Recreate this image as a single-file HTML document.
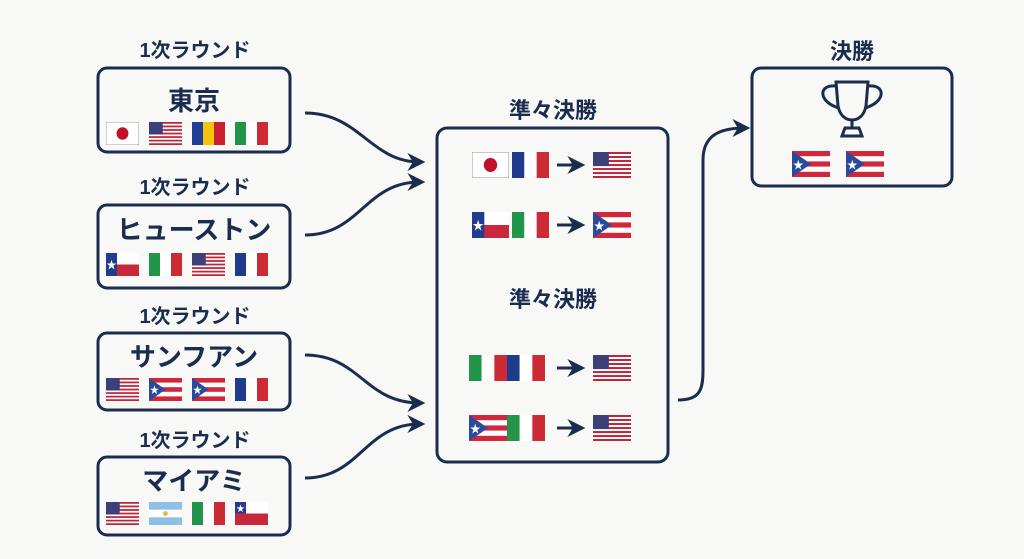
<!DOCTYPE html>
<html><head><meta charset="utf-8"><style>
body{margin:0;background:#f8f8f6;}
svg{display:block}
text{font-family:"Liberation Sans","Noto Sans CJK JP",sans-serif;font-weight:bold;fill:#1b2d4f;text-anchor:middle}
</style></head><body>
<svg width="1024" height="559" viewBox="0 0 1024 559" xmlns="http://www.w3.org/2000/svg">
<defs>
<symbol id="jp" viewBox="0 0 36 24" preserveAspectRatio="none"><rect width="36" height="24" fill="#fff" stroke="#999" stroke-width="1"/><circle cx="18" cy="12" r="6.5" fill="#c0102a"/></symbol>
<symbol id="us" viewBox="0 0 36 24" preserveAspectRatio="none"><rect width="36" height="24" fill="#fff"/><g fill="#c2253a"><rect y="0" width="36" height="1.85"/><rect y="3.7" width="36" height="1.85"/><rect y="7.4" width="36" height="1.85"/><rect y="11.1" width="36" height="1.85"/><rect y="14.8" width="36" height="1.85"/><rect y="18.5" width="36" height="1.85"/><rect y="22.15" width="36" height="1.85"/></g><rect width="15" height="13" fill="#3c3f7a"/></symbol>
<symbol id="ro" viewBox="0 0 36 24" preserveAspectRatio="none"><rect width="12" height="24" fill="#1f3f96"/><rect x="12" width="12" height="24" fill="#f2c40c"/><rect x="24" width="12" height="24" fill="#c8202f"/></symbol>
<symbol id="it" viewBox="0 0 36 24" preserveAspectRatio="none"><rect width="12" height="24" fill="#23954a"/><rect x="12" width="12" height="24" fill="#fff"/><rect x="24" width="12" height="24" fill="#cc2b35"/></symbol>
<symbol id="fr" viewBox="0 0 36 24" preserveAspectRatio="none"><rect width="12" height="24" fill="#1f3b8c"/><rect x="12" width="12" height="24" fill="#fff"/><rect x="24" width="12" height="24" fill="#cc2b35"/></symbol>
<symbol id="tx" viewBox="0 0 36 24" preserveAspectRatio="none"><rect width="36" height="12" fill="#fff"/><rect y="12" width="36" height="12" fill="#c8283a"/><rect width="12" height="24" fill="#223d8f"/><text x="6" y="16" style="fill:#fff;font-size:11px">★</text></symbol>
<symbol id="cl" viewBox="0 0 36 24" preserveAspectRatio="none"><rect width="36" height="12" fill="#fff"/><rect y="12" width="36" height="12" fill="#c8283a"/><rect width="12" height="12" fill="#223d8f"/><text x="6" y="10" style="fill:#fff;font-size:9px">★</text></symbol>
<symbol id="pr" viewBox="0 0 36 24" preserveAspectRatio="none"><rect width="36" height="24" fill="#fff"/><g fill="#d0283a"><rect width="36" height="4.8"/><rect y="9.6" width="36" height="4.8"/><rect y="19.2" width="36" height="4.8"/></g><polygon points="0,0 18,12 0,24" fill="#2a4a9a"/><text x="6" y="16" style="fill:#fff;font-size:10px">★</text></symbol>
<symbol id="ar" viewBox="0 0 36 24" preserveAspectRatio="none"><rect width="36" height="24" fill="#fff"/><rect width="36" height="8" fill="#8ec0e6"/><rect y="16" width="36" height="8" fill="#8ec0e6"/><circle cx="18" cy="12" r="2.5" fill="#e8b92a"/></symbol>
<marker id="ah" viewBox="0 0 10 10" refX="7" refY="5" markerWidth="6" markerHeight="6" orient="auto"><path d="M0,0 L10,5 L0,10 L3,5 Z" fill="#1b2d4f"/></marker>
</defs>
<g fill="none" stroke="#1b2d4f" stroke-width="3">
<rect x="98" y="68" width="192" height="84" rx="9"/>
<rect x="98" y="205" width="192" height="83" rx="9"/>
<rect x="98" y="333" width="192" height="77" rx="9"/>
<rect x="98" y="457" width="192" height="78" rx="9"/>
<rect x="437" y="128" width="231" height="334" rx="10"/>
<rect x="752" y="68" width="200" height="118" rx="9"/>
<path d="M305,113 C360,113 370,162 420,162" marker-end="url(#ah)"/>
<path d="M305,235 C360,235 365,182 420,182" marker-end="url(#ah)"/>
<path d="M305,355 C360,355 365,403 420,403" marker-end="url(#ah)"/>
<path d="M305,478 C360,478 365,424 420,424" marker-end="url(#ah)"/>
<path d="M678,400 C700,400 703,390 703,370 L703,160 C703,135 720,128 745,128" marker-end="url(#ah)"/>
<path d="M557,165 L580,165" marker-end="url(#ah)"/>
<path d="M557,225 L580,225" marker-end="url(#ah)"/>
<path d="M557,368 L580,368" marker-end="url(#ah)"/>
<path d="M557,428 L580,428" marker-end="url(#ah)"/>
<!-- trophy -->
<path d="M836,82 L868,82 L866,106 C864,116 858,120 852,120 C846,120 840,116 838,106 Z"/>
<path d="M836,86 C818,84 818,102 839,108 M868,86 C886,84 886,102 865,108"/>
<path d="M852,120 L852,128 M842,136 L862,136 L859,128 L845,128 Z"/>
</g>
<g style="font-size:20px">
<text x="195" y="57">1次ラウンド</text><text x="195" y="194">1次ラウンド</text>
<text x="195" y="323">1次ラウンド</text><text x="195" y="447">1次ラウンド</text>
<text x="553" y="118" style="font-size:22px">準々決勝</text><text x="553" y="307" style="font-size:22px">準々決勝</text>
<text x="852" y="59" style="font-size:22px">決勝</text>
</g>
<g style="font-size:26px">
<text x="194" y="110">東京</text><text x="194" y="239">ヒューストン</text>
<text x="194" y="366">サンフアン</text><text x="194" y="490">マイアミ</text>
</g>
<g>
<use href="#jp" x="106" y="122" width="33" height="23"/><use href="#us" x="149" y="122" width="33" height="23"/><use href="#ro" x="192" y="122" width="33" height="23"/><use href="#it" x="235" y="122" width="33" height="23"/>
<use href="#tx" x="106" y="253" width="33" height="23"/><use href="#it" x="149" y="253" width="33" height="23"/><use href="#us" x="192" y="253" width="33" height="23"/><use href="#fr" x="235" y="253" width="33" height="23"/>
<use href="#us" x="106" y="378" width="33" height="23"/><use href="#pr" x="149" y="378" width="33" height="23"/><use href="#pr" x="192" y="378" width="33" height="23"/><use href="#fr" x="235" y="378" width="33" height="23"/>
<use href="#us" x="106" y="502" width="33" height="23"/><use href="#ar" x="149" y="502" width="33" height="23"/><use href="#it" x="192" y="502" width="33" height="23"/><use href="#cl" x="235" y="502" width="33" height="23"/>
<use href="#jp" x="472" y="152" width="37" height="26"/><use href="#fr" x="512" y="152" width="37" height="26"/><use href="#us" x="593" y="152" width="38" height="26"/>
<use href="#tx" x="472" y="212" width="37" height="26"/><use href="#it" x="512" y="212" width="37" height="26"/><use href="#pr" x="593" y="212" width="38" height="26"/>
<use href="#it" x="469" y="355" width="38" height="26"/><use href="#fr" x="507" y="355" width="38" height="26"/><use href="#us" x="593" y="355" width="38" height="26"/>
<use href="#pr" x="469" y="415" width="38" height="26"/><use href="#it" x="507" y="415" width="38" height="26"/><use href="#us" x="593" y="415" width="38" height="26"/>
<use href="#pr" x="792" y="151" width="38" height="26"/><use href="#pr" x="846" y="151" width="38" height="26"/>
</g>
</svg>
</body></html>
